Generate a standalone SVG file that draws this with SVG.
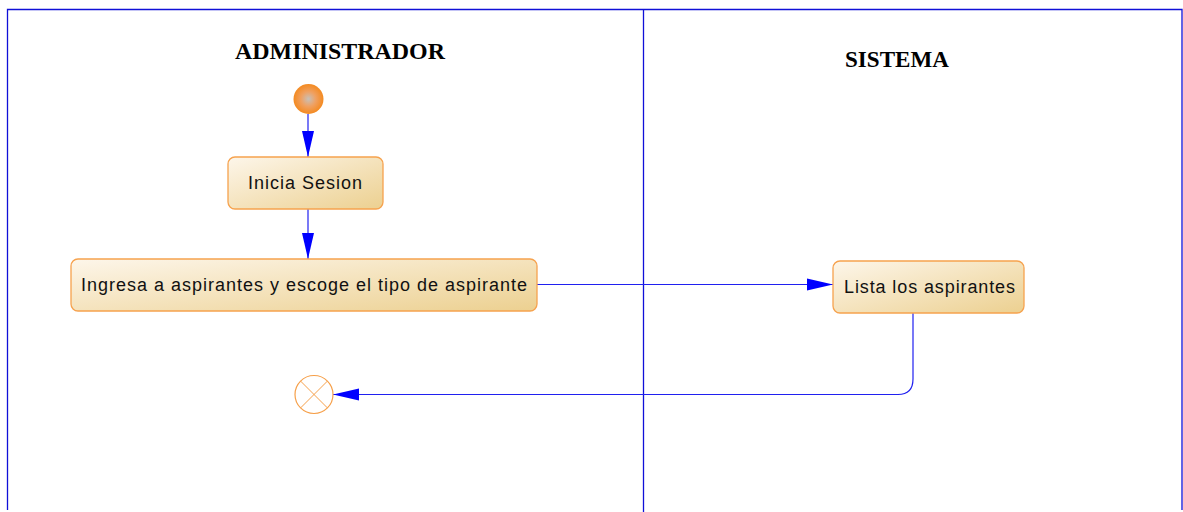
<svg xmlns="http://www.w3.org/2000/svg" width="1183" height="512" viewBox="0 0 1183 512">
<style>
.frame{fill:none;stroke:#1010d8;stroke-width:1.3}
.title{font-family:"Liberation Serif",serif;font-weight:bold;font-size:23px;fill:#000}
.act{fill:url(#g);stroke:#f6a24e;stroke-width:1.3}
.lbl{font-family:"Liberation Sans",Arial,sans-serif;font-size:18px;fill:#111}
.edge{fill:none;stroke:#2020f0;stroke-width:1.2}
</style>
<defs>
<linearGradient id="g" x1="0" y1="0" x2="1" y2="1">
<stop offset="0" stop-color="#fdf6ea"/>
<stop offset="1" stop-color="#ecd090"/>
</linearGradient>
<radialGradient id="sg" cx="0.5" cy="0.5" r="0.5">
<stop offset="0" stop-color="#c8c0b8"/>
<stop offset="0.5" stop-color="#f0a060"/>
<stop offset="1" stop-color="#f48a20"/>
</radialGradient>
<marker id="ah" markerWidth="26" markerHeight="14" refX="26" refY="7" orient="auto" markerUnits="userSpaceOnUse">
<path d="M0,1 L26,7 L0,13 z" fill="#0000ff"/>
</marker>
</defs>
<g id="lanes">
<path class="frame" d="M7.5,510 V9.5 H1182 V510"/>
<line class="frame" x1="643.5" y1="9.5" x2="643.5" y2="512"/>
<text class="title" x="235" y="59" textLength="210" lengthAdjust="spacingAndGlyphs">ADMINISTRADOR</text>
<text class="title" x="845" y="67" textLength="104" lengthAdjust="spacingAndGlyphs">SISTEMA</text>
</g>
<g id="connectors">
<line class="edge" x1="308" y1="114" x2="308" y2="157" marker-end="url(#ah)"/>
<line class="edge" x1="308" y1="209" x2="308" y2="259" marker-end="url(#ah)"/>
<line class="edge" x1="537" y1="284.5" x2="833" y2="284.5" marker-end="url(#ah)"/>
<path class="edge" d="M913,313 V379 Q913,394.5 898,394.5 H333" marker-end="url(#ah)"/>
</g>
<g id="start">
<circle cx="308.5" cy="99" r="15" fill="url(#sg)"/>
</g>
<g id="inicia">
<rect class="act" x="228" y="157" width="155" height="52" rx="7"/>
<text class="lbl" x="248" y="188.5" textLength="114" lengthAdjust="spacing">Inicia Sesion</text>
</g>
<g id="ingresa">
<rect class="act" x="71" y="259" width="466" height="52" rx="7"/>
<text class="lbl" x="81" y="291" textLength="446" lengthAdjust="spacing">Ingresa a aspirantes y escoge el tipo de aspirante</text>
</g>
<g id="lista">
<rect class="act" x="833" y="261" width="191" height="52" rx="7"/>
<text class="lbl" x="844" y="293" textLength="171" lengthAdjust="spacing">Lista los aspirantes</text>
</g>
<g id="end">
<circle cx="314" cy="394.5" r="19" fill="#fff" stroke="#f6a04a" stroke-width="1.2"/>
<line x1="300.6" y1="381.1" x2="327.4" y2="407.9" stroke="#f6a04a" stroke-width="1"/>
<line x1="327.4" y1="381.1" x2="300.6" y2="407.9" stroke="#f6a04a" stroke-width="1"/>
</g>
</svg>
